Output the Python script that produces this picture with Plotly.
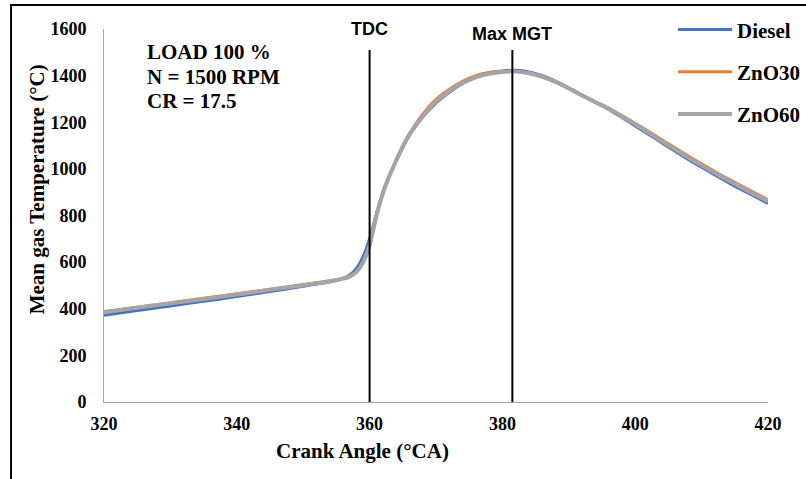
import plotly.graph_objects as go

crank_angle = [320, 325, 330, 335, 340, 345, 350, 353, 355, 356, 357, 358, 359, 360, 361, 362, 363, 364, 365, 366,
               368, 370, 372, 374, 376, 378, 380, 382, 384, 386, 388, 390, 392, 394, 396, 398, 400,
               403, 406, 409, 412, 415, 418, 420]
diesel = [372, 392, 412, 432, 452, 474, 496, 510, 522, 530, 545, 572, 622, 700, 805, 900, 973, 1035, 1093, 1145,
          1222, 1282, 1328, 1366, 1395, 1412, 1420, 1423, 1416, 1400, 1377, 1348, 1316, 1285, 1255, 1220, 1184,
          1130, 1076, 1023, 974, 926, 882, 852]
zno30 = [388, 407, 426, 445, 464, 484, 504, 516, 525, 531, 540, 558, 598, 668, 795, 895, 972, 1040, 1100, 1152,
         1235, 1298, 1342, 1376, 1400, 1413, 1418, 1419, 1411, 1395, 1373, 1345, 1316, 1288, 1261, 1229, 1196,
         1143, 1090, 1038, 989, 942, 897, 867]
zno60 = [385, 404, 423, 442, 461, 481, 501, 513, 522, 529, 538, 557, 598, 672, 795, 895, 970, 1035, 1095, 1147,
         1226, 1288, 1334, 1368, 1393, 1408, 1416, 1418, 1410, 1395, 1373, 1345, 1315, 1286, 1258, 1225, 1191,
         1137, 1083, 1031, 982, 935, 890, 861]

series_names = ["Diesel", "ZnO30", "ZnO60"]
series_colors = ["#4472C4", "#ED7D31", "#A5A5A5"]
series_widths = [3, 3, 4]

x_ticks = [320, 340, 360, 380, 400, 420]
y_ticks = [0, 200, 400, 600, 800, 1000, 1200, 1400, 1600]

marker_angles = [360, 381.5]
marker_labels = ["TDC", "Max MGT"]
marker_top = 1510

note_lines = ["LOAD 100 %", "N = 1500 RPM", "CR = 17.5"]
x_title = "Crank Angle (°CA)"
y_title = "Mean gas Temperature (°C)"

SERIF = "Liberation Serif, Times New Roman, serif"
SANS = "Liberation Sans, Arial, sans-serif"

fig = go.Figure()
for name, vals, col, w in zip(series_names, [diesel, zno30, zno60], series_colors, series_widths):
    fig.add_trace(go.Scatter(x=crank_angle, y=vals, mode="lines", name=name, legendgroup=name,
                             line=dict(color=col, width=w, shape="spline", smoothing=0.5)))

for ang, lab, ly in zip(marker_angles, marker_labels, [1.0, 0.987]):
    fig.add_shape(type="line", xref="x", yref="y", x0=ang, x1=ang, y0=0, y1=marker_top,
                  line=dict(color="black", width=2))
    fig.add_annotation(x=ang, y=ly, xref="x", yref="paper", text=f"<b>{lab}</b>", showarrow=False,
                       yanchor="middle", font=dict(family=SANS, size=18, color="black"))

for i, line in enumerate(note_lines):
    fig.add_annotation(x=0.0617, y=0.938 - i * 0.066, xref="paper", yref="paper", text=f"<b>{line}</b>",
                       showarrow=False, xanchor="left", yanchor="middle",
                       font=dict(family=SERIF, size=21, color="black"))

fig.add_annotation(x=0.389, y=-0.132, xref="paper", yref="paper", text=f"<b>{x_title}</b>", showarrow=False,
                   xanchor="center", yanchor="middle", font=dict(family=SERIF, size=21, color="black"))
fig.add_annotation(x=-0.101, y=0.570, xref="paper", yref="paper", text=f"<b>{y_title}</b>", showarrow=False,
                   textangle=-90, xanchor="center", yanchor="middle", font=dict(family=SERIF, size=21, color="black"))

# outer frame
fig.add_shape(type="rect", xref="paper", yref="paper", x0=-0.140, y0=-0.25, x1=1.12, y1=1.0645,
              line=dict(color="black", width=2), fillcolor="rgba(0,0,0,0)", layer="below")

fig.update_layout(
    width=806, height=479,
    margin=dict(l=104, r=38, t=29, b=77, autoexpand=False),
    paper_bgcolor="white", plot_bgcolor="white",
    showlegend=True,
    legend=dict(x=0.857, y=1.053, xanchor="left", yanchor="top", itemwidth=54,
                font=dict(family=SERIF, size=21, color="black", weight="bold"), tracegroupgap=12,
                bgcolor="rgba(0,0,0,0)", borderwidth=0),
    xaxis=dict(range=[320, 420], tickvals=x_ticks, ticktext=[f"<b>{t}</b>" for t in x_ticks],
               showgrid=False, zeroline=False, showline=True, linecolor="#A6A6A6", linewidth=1,
               ticks="", ticklabelstandoff=5, tickfont=dict(family=SERIF, size=18, color="black")),
    yaxis=dict(range=[0, 1600], tickvals=y_ticks, ticktext=[f"<b>{t}</b>" for t in y_ticks],
               showgrid=False, zeroline=False, showline=True, linecolor="#A6A6A6", linewidth=1,
               ticks="", ticklabelstandoff=13, tickfont=dict(family=SERIF, size=18, color="black")),
)

fig.write_html("out.html")
